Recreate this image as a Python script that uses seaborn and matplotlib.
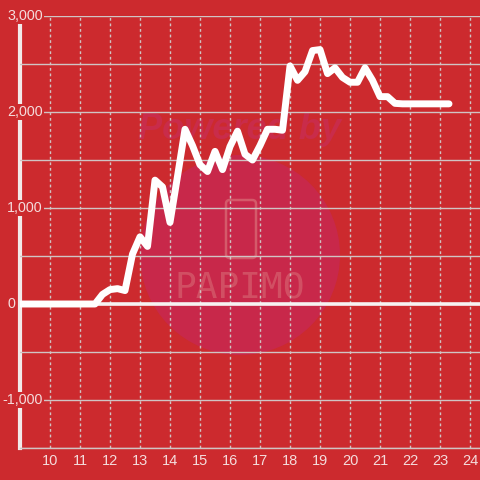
import numpy as np
import pandas as pd
import matplotlib
matplotlib.use('Agg')
import matplotlib.pyplot as plt
import matplotlib.transforms as mtransforms
import seaborn as sns
from matplotlib.patches import Circle, FancyBboxPatch

# godziny (co 15 min) i wartości
hours = [9.0, 9.25, 9.5, 9.75, 10.0, 10.25, 10.5, 10.75, 11.0, 11.25, 11.5,
         11.75, 12.0, 12.25, 12.5, 12.75, 13.0, 13.25, 13.5, 13.75, 14.0,
         14.25, 14.5, 14.75, 15.0, 15.25, 15.5, 15.75, 16.0, 16.25, 16.5,
         16.75, 17.0, 17.25, 17.5, 17.75, 18.0, 18.25, 18.5, 18.75, 19.0,
         19.25, 19.5, 19.75, 20.0, 20.25, 20.5, 20.75, 21.0, 21.25, 21.5,
         21.75, 22.0, 22.25, 22.5, 22.75, 23.0, 23.3]
values = [0, 0, 0, 0, 0, 0, 0, 0, 0, 0, 0,
          100, 150, 160, 140, 520, 700, 600, 1290, 1220, 850,
          1330, 1820, 1650, 1450, 1380, 1590, 1400, 1640, 1800, 1560,
          1500, 1650, 1820, 1820, 1810, 2480, 2330, 2420, 2640, 2650,
          2400, 2460, 2360, 2310, 2310, 2460, 2330, 2160, 2160, 2090,
          2085, 2085, 2085, 2085, 2085, 2085, 2085]
x_ticks = list(range(10, 25))
y_grid = list(range(-1500, 3001, 500))
y_label_vals = [3000, 2000, 1000, 0, -1000]
y_label_txt = ['3,000', '2,000', '1,000', '0', '-1,000']

bg = '#cc2a2e'
txt = '#f4dcdc'
grid = '#d0c4c4'

sns.set_style('white')
plt.rcParams['font.family'] = ['Liberation Sans', 'DejaVu Sans']

fig = plt.figure(figsize=(4.8, 4.8), dpi=100, facecolor=bg)
ax = fig.add_axes([20/480, 32/480, 460/480, 432/480])
ax.set_facecolor(bg)

# znak wodny (pod siatką)
ft = fig.transFigure
ax.add_patch(Circle((240/480, 1-255/480), 100/480, transform=ft, clip_on=False,
                    facecolor='#c8284a', edgecolor='none', zorder=0.1))
ax.text(240/480, 1-130/480, 'Powered by', transform=ft, ha='center', va='center',
        fontsize=26, fontweight='bold', style='italic', color='#c92c4a', zorder=0.2)
ax.add_patch(FancyBboxPatch((226/480, 1-258/480), 30/480, 58/480, transform=ft, clip_on=False,
                            boxstyle='round,pad=0,rounding_size=0.008',
                            facecolor='none', edgecolor='#d45a6a', lw=1.8, zorder=0.2))
ax.text(240/480, 1-287/480, 'PAPIMO', transform=ft, ha='center', va='center',
        fontsize=26, family='DejaVu Sans Mono', color='#d45a6a', alpha=0.8, zorder=0.2)

df = pd.DataFrame({'hour': hours, 'value': values})
sns.lineplot(data=df, x='hour', y='value', ax=ax, color='white', lw=5, zorder=3)
ax.axhline(0, color='#f7f2f2', lw=2.6, zorder=2)

ax.set_xlim(9, 24.333)
ax.set_ylim(-1500, 3000)
ax.set_xticks(x_ticks)
ax.set_xticklabels([str(t) for t in x_ticks])
ax.set_yticks(y_grid)
ax.set_yticklabels([])
ax.set_xlabel('')
ax.set_ylabel('')

ax.set_axisbelow(True)
ax.grid(axis='y', color=grid, lw=1.0, ls='-')
ax.grid(axis='x', color=grid, lw=1.0, ls=(0, (2, 2)))

ax.tick_params(axis='y', length=0)
ax.tick_params(axis='x', length=0, pad=4, labelsize=10.5, labelcolor=txt)

# etykiety osi Y nad osią (z tłem)
lab_tr = mtransforms.blended_transform_factory(ft, ax.transData)
for v, t in zip(y_label_vals, y_label_txt):
    x0 = 2/480 if t.startswith('-') else 7/480
    ax.text(x0, v, t, transform=lab_tr, ha='left', va='center', fontsize=10.3,
            color=txt, zorder=0.6, clip_on=False,
            bbox=dict(facecolor=bg, edgecolor='none', pad=1))

for s in ['top', 'right']:
    ax.spines[s].set_visible(False)
ax.spines['bottom'].set_color(grid)
ax.spines['bottom'].set_linewidth(1.0)
ax.spines['left'].set_color('#f2eaea')
ax.spines['left'].set_linewidth(3)
ax.spines['left'].set_bounds(-1500, 2920)
ax.spines['left'].set_zorder(0.4)

fig.savefig('out.png', dpi=100, facecolor=bg)
